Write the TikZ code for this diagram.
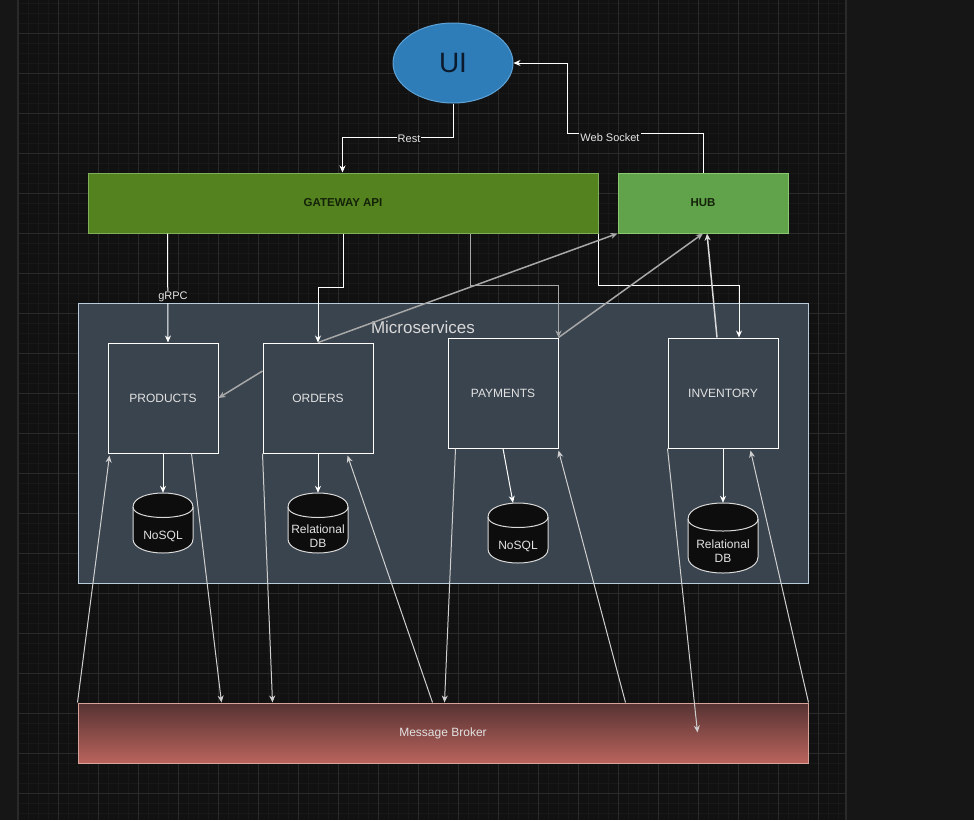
\documentclass[tikz,border=0pt]{standalone}
\usepackage{fontspec}
\setmainfont{Liberation Sans}
\usetikzlibrary{shapes.geometric,arrows.meta,calc}
\definecolor{outbg}{HTML}{161616}
\definecolor{canvas}{HTML}{111111}
\definecolor{gridminor}{HTML}{181818}
\definecolor{gridmajor}{HTML}{2A2A2A}
\definecolor{uifill}{HTML}{2E7DB9}
\definecolor{uiline}{HTML}{5EA2D6}
\definecolor{uitext}{HTML}{0B1A2C}
\definecolor{gwfill}{HTML}{54821E}
\definecolor{gwline}{HTML}{7FAF58}
\definecolor{hubfill}{HTML}{60A34A}
\definecolor{hubline}{HTML}{8CC870}
\definecolor{greentext}{HTML}{14220A}
\definecolor{msfill}{HTML}{3A444E}
\definecolor{msline}{HTML}{B8CCDC}
\definecolor{boxtext}{HTML}{E2E2E2}
\definecolor{mbtop}{HTML}{563333}
\definecolor{mbbot}{HTML}{BA635C}
\definecolor{mbline}{HTML}{D8A39A}
\definecolor{graywire}{HTML}{A8A8A8}
\definecolor{lightwire}{HTML}{CFCFCF}
\newcommand{\dbshape}[8]{%
  \node[inner sep=0pt, minimum width=#4pt, minimum height=#5pt] (#1) at ({#2+#4/2},{#3+#5/2}) {};
  \draw[dbstyle] (#2,{#3+#6}) .. controls (#2,{#3-#6/3}) and ({#2+#4},{#3-#6/3}) .. ({#2+#4},{#3+#6}) -- ({#2+#4},{#3+#5-#6}) .. controls ({#2+#4},{#3+#5+#6/3}) and (#2,{#3+#5+#6/3}) .. (#2,{#3+#5-#6}) -- cycle;
  \draw[dbstyle, fill=none] (#2,{#3+#6}) .. controls (#2,{#3+2*#6}) and ({#2+#4},{#3+2*#6}) .. ({#2+#4},{#3+#6});
  \node[dbtext] (#1-label) at ({#2+#4/2},#8) {#7};
}
\begin{document}
\begin{tikzpicture}[x=1pt,y=-1pt,
  svc/.style={draw=white, line width=1pt, fill=msfill, minimum width=110pt, minimum height=110pt, inner sep=0pt, text=boxtext, font=\fontsize{12}{14}\selectfont},
  dbstyle/.style={draw=white!85!black, line width=1pt, fill=black!95!white},
  dbtext/.style={text=boxtext, font=\fontsize{12}{14}\selectfont, align=center, inner sep=0pt},
  tip/.style={-{Stealth[length=7pt,width=6pt,inset=2.2pt]}},
  wire/.style={tip, draw=white, line width=1pt},
  graywire/.style={tip, draw=graywire, line width=1.5pt},
  brokerwire/.style={tip, draw=lightwire, line width=1pt},
  lbl/.style={fill=canvas, text=white!90!black, inner sep=1pt, font=\fontsize{11}{13}\selectfont},
  greenbox/.style={line width=1pt, minimum height=60pt, inner sep=0pt, text=greentext, font=\bfseries\fontsize{11.5}{13}\selectfont},
]
\useasboundingbox (0,0) rectangle (974,820);
\fill[outbg] (0,0) rectangle (974,820);
\fill[canvas] (18,0) rectangle (846,820);
\foreach \gx in {18,28,...,846} \draw[gridminor, line width=0.8pt] (\gx,0) -- (\gx,820);
\foreach \gy in {3,13,...,820} \draw[gridminor, line width=0.8pt] (18,\gy) -- (846,\gy);
\foreach \gx in {58,98,...,846} \draw[gridmajor, line width=1pt] (\gx,0) -- (\gx,820);
\foreach \gy in {33,73,...,820} \draw[gridmajor, line width=1pt] (18,\gy) -- (846,\gy);
\draw[gridmajor, line width=2pt] (18,0) -- (18,820);
\draw[gridmajor, line width=2pt] (846,0) -- (846,820);

% top level
\node[ellipse, draw=uiline, line width=1pt, fill=uifill, minimum width=120pt, minimum height=80pt, inner sep=0pt, text=uitext, font=\fontsize{28}{32}\selectfont] (ui) at (453,63) {UI};
\node[greenbox, draw=gwline, fill=gwfill, minimum width=510pt] (gw) at (343,203) {GATEWAY API};
\node[greenbox, draw=hubline, fill=hubfill, minimum width=170pt] (hub) at (703,203) {HUB};

% container
\node[draw=msline, line width=1pt, fill=msfill, minimum width=730pt, minimum height=280pt, inner sep=0pt] (ms) at (443,443) {};
\node[text=white!85!black, font=\fontsize{17}{20}\selectfont, inner sep=0pt] (mslabel) at (423,327) {Microservices};

\node[svc] (prod) at (163,398) {PRODUCTS};
\node[svc] (ord) at (318,398) {ORDERS};
\node[svc] (pay) at (503,393) {PAYMENTS};
\node[svc] (inv) at (723,393) {INVENTORY};

\dbshape{db1}{133}{493}{60}{60}{14}{NoSQL}{536}
\dbshape{db2}{288}{493}{60}{60}{14}{Relational\\DB}{536}
\dbshape{db3}{488}{503}{60}{60}{14}{NoSQL}{546}
\dbshape{db4}{688}{503}{70}{70}{16}{Relational\\DB}{551}

\node[draw=mbline, line width=1pt, top color=mbtop, bottom color=mbbot, minimum width=730pt, minimum height=60pt, inner sep=0pt, text=boxtext, font=\fontsize{12}{14}\selectfont] (mb) at (443,733) {Message Broker};

% UI links
\draw[wire] (ui.south) |- ($(gw.north west)+(255,-35)$) -- ($(gw.north west)+(255,0)$);
\node[lbl] (rest) at (409,139) {Rest};
\draw[wire] (hub.north) |- ($(ui.east)+(54,70)$) |- (ui.east);
\node[lbl] (ws) at (610,138) {Web Socket};

% gateway to services
\draw[wire] ($(gw.south west)+(80,0)$) -- ($(prod.north)+(5,0)$);
\node[lbl] (grpc) at (173,297) {gRPC};
\draw[wire] (gw.south) |- ($(ord.north)+(0,-55)$) -- (ord.north);
\draw[graywire] ($(gw.south west)+(383,0)$) |- ($(pay.north east)+(0,-52)$) -- (pay.north east);
\draw[wire] (gw.south east) |- ($(inv.north)+(16,-52)$) -- ($(inv.north)+(16,0)$);

% services to hub / products
\draw[graywire] (ord.north) -- (hub.south west);
\draw[graywire] ($(ord.west)+(0,-27)$) -- (prod.east);
\draw[graywire] (pay.north east) -- (hub.south);
\draw[tip, draw=white!85!black, line width=1.5pt] ($(inv.north)+(-6,0)$) -- ($(hub.south)+(4,0)$);

% DB links
\draw[wire] (prod.south) -- (db1.north);
\draw[wire] (ord.south) -- (db2.north);
\draw[wire] (pay.south) -- ($(db3.north)+(-5,0)$);
\draw[wire] (inv.south) -- (db4.north);

% broker links
\draw[brokerwire] (mb.north west) -- ($(prod.south west)+(2,2)$);
\draw[brokerwire] ($(prod.south east)+(-27,0)$) -- ($(mb.north west)+(144,0)$);
\draw[brokerwire] (ord.south west) -- ($(mb.north west)+(195,0)$);
\draw[brokerwire] ($(mb.north west)+(355,0)$) -- ($(ord.south east)+(-26,2)$);
\draw[brokerwire] ($(pay.south west)+(8,0)$) -- ($(mb.north west)+(367,0)$);
\draw[brokerwire] ($(mb.north west)+(548,0)$) -- ($(pay.south east)+(0,2)$);
\draw[brokerwire] (inv.south west) -- ($(mb.north west)+(620,30)$);
\draw[brokerwire] (mb.north east) -- ($(inv.south east)+(-28,2)$);
\end{tikzpicture}
\end{document}
